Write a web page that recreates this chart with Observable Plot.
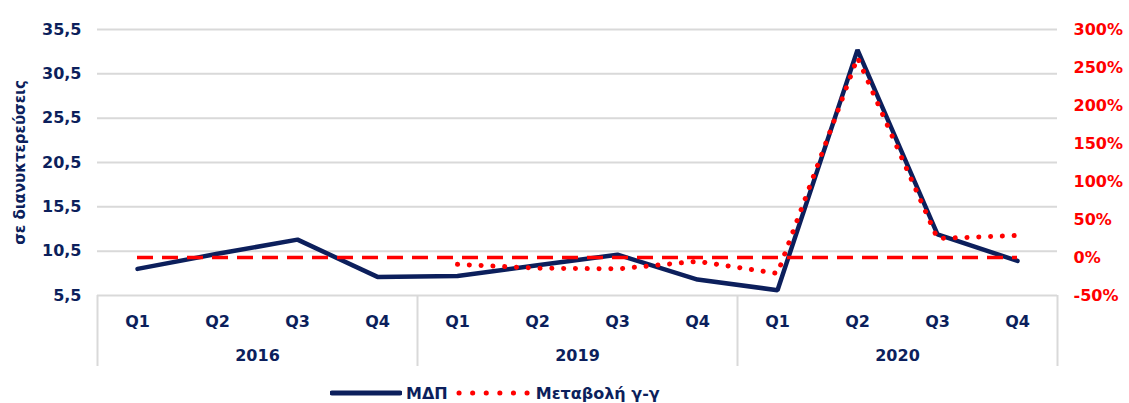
<!DOCTYPE html>
<html><head><meta charset="utf-8">
<script src="https://cdn.jsdelivr.net/npm/d3@7"></script>
<script src="https://cdn.jsdelivr.net/npm/@observablehq/plot@0.6"></script>
<style>
body{margin:0;background:#fff;font-family:"DejaVu Sans",Verdana,sans-serif;}
#chart{width:1129px;height:403px;position:relative;overflow:hidden;background:#fff}
#legend{position:absolute;top:381px;left:330px;height:24px;display:flex;align-items:center;font-size:16px;font-weight:bold;color:#0c1f5c;white-space:nowrap}
#legend svg{display:block}
</style>
</head><body><div id="chart"></div>
<script>
const years = ["2016", "2019", "2020"];
const quarters = ["Q1", "Q2", "Q3", "Q4"];
const gdp = [8.5, 10.2, 11.8, 7.6, 7.7, 8.9, 10.1, 7.3, 6.1, 33.2, 12.4, 9.4];
const yoy = [null, null, null, null, -9, -14, -15, -5, -21, 263, 25, 29];
const leftTicks = [5.5, 10.5, 15.5, 20.5, 25.5, 30.5, 35.5];
const rightTicks = [-50, 0, 50, 100, 150, 200, 250, 300];
const yLabel = "σε διανυκτερεύσεις";
const legendLabels = ["ΜΔΠ", "Μεταβολή γ-γ"];

const navy = "#0c1f5c", red = "#ff0000", grid = "#d9d9d9";
const L0 = leftTicks[0], L1 = leftTicks[leftTicks.length - 1];
const R0 = rightTicks[0], R1 = rightTicks[rightTicks.length - 1];
const toLeft = p => L0 + (p - R0) / (R1 - R0) * (L1 - L0);
const fromLeft = v => Math.round(R0 + (v - L0) / (L1 - L0) * (R1 - R0));

const rows = gdp.map((v, i) => ({i, year: years[Math.floor(i / 4)], q: quarters[i % 4], gdp: v, yoy: yoy[i]}));
const yoyRows = rows.filter(d => d.yoy != null);
const yearRows = years.map((y, k) => ({x: k * 4 + 1.5, y}));
const dividers = years.map((_, k) => k * 4 - 0.5).concat([years.length * 4 - 0.5]);
const n = rows.length;

const font = {fontSize: 16, fontWeight: "bold", fill: navy};

const plot = Plot.plot({
  width: 1129, height: 378,
  marginTop: 29, marginBottom: 83, marginLeft: 97, marginRight: 72,
  x: {type: "linear", domain: [-0.5, n - 0.5], axis: null},
  y: {domain: [L0, L1], axis: null},
  style: {fontFamily: "'DejaVu Sans', Verdana, sans-serif", background: "white", overflow: "visible"},
  marks: [
    Plot.ruleY(leftTicks, {stroke: grid, strokeWidth: 2}),
    Plot.ruleX(dividers, {y1: L0, y2: L0, insetBottom: -71, stroke: grid, strokeWidth: 2}),
    Plot.axisY(leftTicks, {anchor: "left", label: null, tickSize: 0, tickPadding: 16,
      tickFormat: d => d.toFixed(1).replace(".", ","), ...font}),
    Plot.axisY(rightTicks.map(toLeft), {anchor: "right", label: null, tickSize: 0, tickPadding: 16,
      tickFormat: d => fromLeft(d) + "%", textAnchor: "start", fontSize: 16, fontWeight: "bold", fill: red}),
    Plot.text([yLabel], {frameAnchor: "left", textAnchor: "middle", lineAnchor: "middle", rotate: -90, dx: -77, fontSize: 15, fontWeight: "bold", fill: navy}),
    Plot.text(rows, {x: "i", text: "q", frameAnchor: "bottom", lineAnchor: "middle", dy: 26, ...font}),
    Plot.text(yearRows, {x: "x", text: "y", frameAnchor: "bottom", lineAnchor: "middle", dy: 60, ...font}),
    Plot.line(rows, {x: "i", y: "gdp", stroke: navy, strokeWidth: 4.5, strokeLinejoin: "miter"}),
    Plot.ruleY([toLeft(0)], {x1: 0, x2: n - 1, stroke: red, strokeWidth: 3.5, strokeDasharray: "16 9"}),
    Plot.line(yoyRows, {x: "i", y: d => toLeft(d.yoy), stroke: red, strokeWidth: 5,
      strokeDasharray: "0.1 11.7", strokeLinecap: "round"})
  ]
});
const chart = document.getElementById("chart");
chart.appendChild(plot);

const legend = document.createElement("div");
legend.id = "legend";
legend.innerHTML =
  `<svg width="72" height="10"><line x1="2" x2="70" y1="5" y2="5" stroke="${navy}" stroke-width="5" stroke-linecap="round"/></svg>` +
  `<span style="margin-left:4px">${legendLabels[0]}</span>` +
  `<svg width="76" height="10" style="margin-left:8px"><line x1="3" x2="73" y1="5" y2="5" stroke="${red}" stroke-width="5" stroke-dasharray="0.1 13.5" stroke-linecap="round"/></svg>` +
  `<span style="margin-left:4px">${legendLabels[1]}</span>`;
chart.appendChild(legend);
</script>
</body></html>
